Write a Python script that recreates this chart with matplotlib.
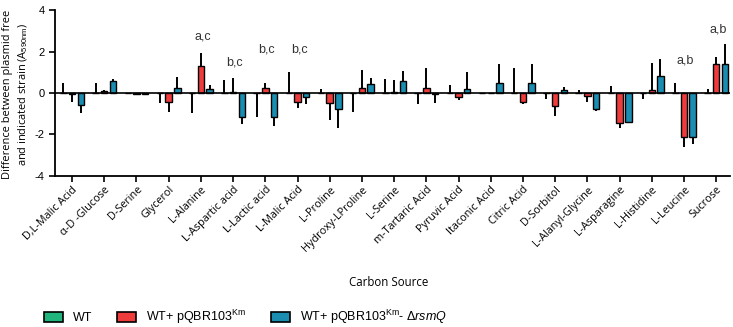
import numpy as np
import matplotlib
matplotlib.use("Agg")
import matplotlib.pyplot as plt
from matplotlib.patches import Patch

plt.rcParams['font.family'] = ['Liberation Sans', 'DejaVu Sans']
plt.rcParams['mathtext.fontset'] = 'custom'
plt.rcParams['mathtext.rm'] = 'Liberation Sans'
plt.rcParams['mathtext.it'] = 'Liberation Sans:italic'

# ---- data ----
sources = ["D,L-Malic Acid", "\u03b1-D -Glucose", "D-Serine", "Glycerol", "L-Alanine",
           "L-Aspartic acid", "L-Lactic acid", "L-Malic Acid", "L-Proline",
           "Hydroxy-LProline", "L-Serine", "m-Tartaric Acid", "Pyruvic Acid",
           "Itaconic Acid", "Citric Acid", "D-Sorbitol", "L-Alanyl-Glycine",
           "L-Asparagine", "L-Histidine", "L-Leucine", "Sucrose"]

# WT: difference with itself is zero, only the (signed) error bar shows
wt_mean = [0.0] * 21
wt_err = [0.5, 0.5, 0.02, -0.47, -0.95, 0.63, -1.14, 1.0, 0.2, -0.9, 0.66,
          -0.53, 0.37, 0.0, 1.22, -0.27, 0.14, 0.35, -0.29, 0.5, 0.19]

km_mean = [-0.05, 0.08, -0.03, -0.45, 1.32, 0.05, 0.22, -0.45, -0.5, 0.26, 0.05,
           0.22, -0.2, 0.0, -0.42, -0.63, -0.13, -1.43, 0.14, -2.1, 1.38]
km_err = [0.37, 0.07, 0.02, 0.48, 0.62, 0.69, 0.28, 0.29, 0.82, 0.84, 0.58,
          0.97, 0.14, 0.0, 0.11, 0.46, 0.29, 0.27, 1.32, 0.49, 0.37]

rsm_mean = [-0.6, 0.58, -0.03, 0.23, 0.18, -1.14, -1.14, -0.2, -0.77, 0.42, 0.58,
            -0.05, 0.19, 0.5, 0.47, 0.14, -0.77, -1.38, 0.82, -2.1, 1.4]
rsm_err = [0.35, 0.12, 0.02, 0.54, 0.22, 0.36, 0.46, 0.35, 0.93, 0.29, 0.49,
           0.45, 0.81, 0.88, 0.91, 0.13, 0.1, 0.07, 0.82, 0.37, 0.95]

# significance letters: (category index, label, y)
sig_idx = [4, 5, 6, 7, 19, 20]
sig_text = ["a,c", "b,c", "b,c", "b,c", "a,b", "a,b"]
sig_y = [2.75, 1.45, 2.1, 2.1, 1.55, 3.05]

GREEN = "#1fb57c"
RED = "#ee3b3b"
BLUE = "#1a8db0"


def one_sided(mean, err):
    # error bar drawn only away from zero
    lo = [e if m < 0 else 0 for m, e in zip(mean, err)]
    hi = [e if m >= 0 else 0 for m, e in zip(mean, err)]
    return [lo, hi]


fig = plt.figure(figsize=(7.33, 3.27), dpi=100)
ax = fig.add_axes([0.075, 0.462, 0.921, 0.507])

x = np.arange(len(sources))
w = 0.2
off = 0.27

ax.bar(x - off, wt_mean, w, color=GREEN, edgecolor="black", linewidth=1.0, zorder=3)
wt_lo = [-e if e < 0 else 0 for e in wt_err]
wt_hi = [e if e > 0 else 0 for e in wt_err]
ax.errorbar(x - off, wt_mean, yerr=[wt_lo, wt_hi], fmt="none", ecolor="black",
            elinewidth=1.4, capsize=0, zorder=2)

ax.bar(x, km_mean, w, color=RED, edgecolor="black", linewidth=1.0, zorder=3)
ax.errorbar(x, km_mean, yerr=one_sided(km_mean, km_err), fmt="none", ecolor="black",
            elinewidth=1.4, capsize=0, zorder=2)

ax.bar(x + off, rsm_mean, w, color=BLUE, edgecolor="black", linewidth=1.0, zorder=3)
ax.errorbar(x + off, rsm_mean, yerr=one_sided(rsm_mean, rsm_err), fmt="none",
            ecolor="black", elinewidth=1.4, capsize=0, zorder=2)

ax.axhline(0, color="black", linewidth=1.2, zorder=4)

for i, t, yy in zip(sig_idx, sig_text, sig_y):
    ax.text(x[i] + 0.05, yy, t, ha="center", va="center", fontsize=9, color="#333333")

ax.set_xlim(-0.53, 20.43)
ax.set_ylim(-4, 4)
ax.set_yticks([-4, -2, 0, 2, 4])
ax.set_yticklabels(["-4", "-2", "0", "2", "4"], fontsize=8)
ax.set_xticks(x)
ax.set_xticklabels(sources, rotation=45, ha="right", rotation_mode="anchor",
                   fontsize=7.8, family="Open Sans")
ax.tick_params(axis="both", width=1.2, length=4, color="black")
ax.tick_params(axis="x", pad=2)

for s in ["top", "right"]:
    ax.spines[s].set_visible(False)
for s in ["left", "bottom"]:
    ax.spines[s].set_linewidth(1.3)

ax.set_ylabel("Difference between plasmid free\nand indicated strain (A$_{\\mathrm{590nm}}$)",
              fontsize=7.9, family="Open Sans", linespacing=1.3)
ax.yaxis.set_label_coords(-0.037, 0.49)
fig.text(0.53, 0.137, "Carbon Source", ha="center", va="center", fontsize=8.3,
         family="Open Sans")

handles = [Patch(facecolor=GREEN, edgecolor="black", linewidth=1.2),
           Patch(facecolor=RED, edgecolor="black", linewidth=1.2),
           Patch(facecolor=BLUE, edgecolor="black", linewidth=1.2)]
labels = ["WT", "WT+ pQBR103$^{\\mathrm{Km}}$",
          "WT+ pQBR103$^{\\mathrm{Km}}$- $\\Delta\\mathit{rsmQ}$"]
fig.legend(handles, labels, loc="center left", bbox_to_anchor=(0.045, 0.03), ncol=3,
           frameon=False, fontsize=9, handlelength=1.5, handleheight=0.8,
           columnspacing=2.0, handletextpad=0.8)

fig.savefig("out.png", dpi=100)
